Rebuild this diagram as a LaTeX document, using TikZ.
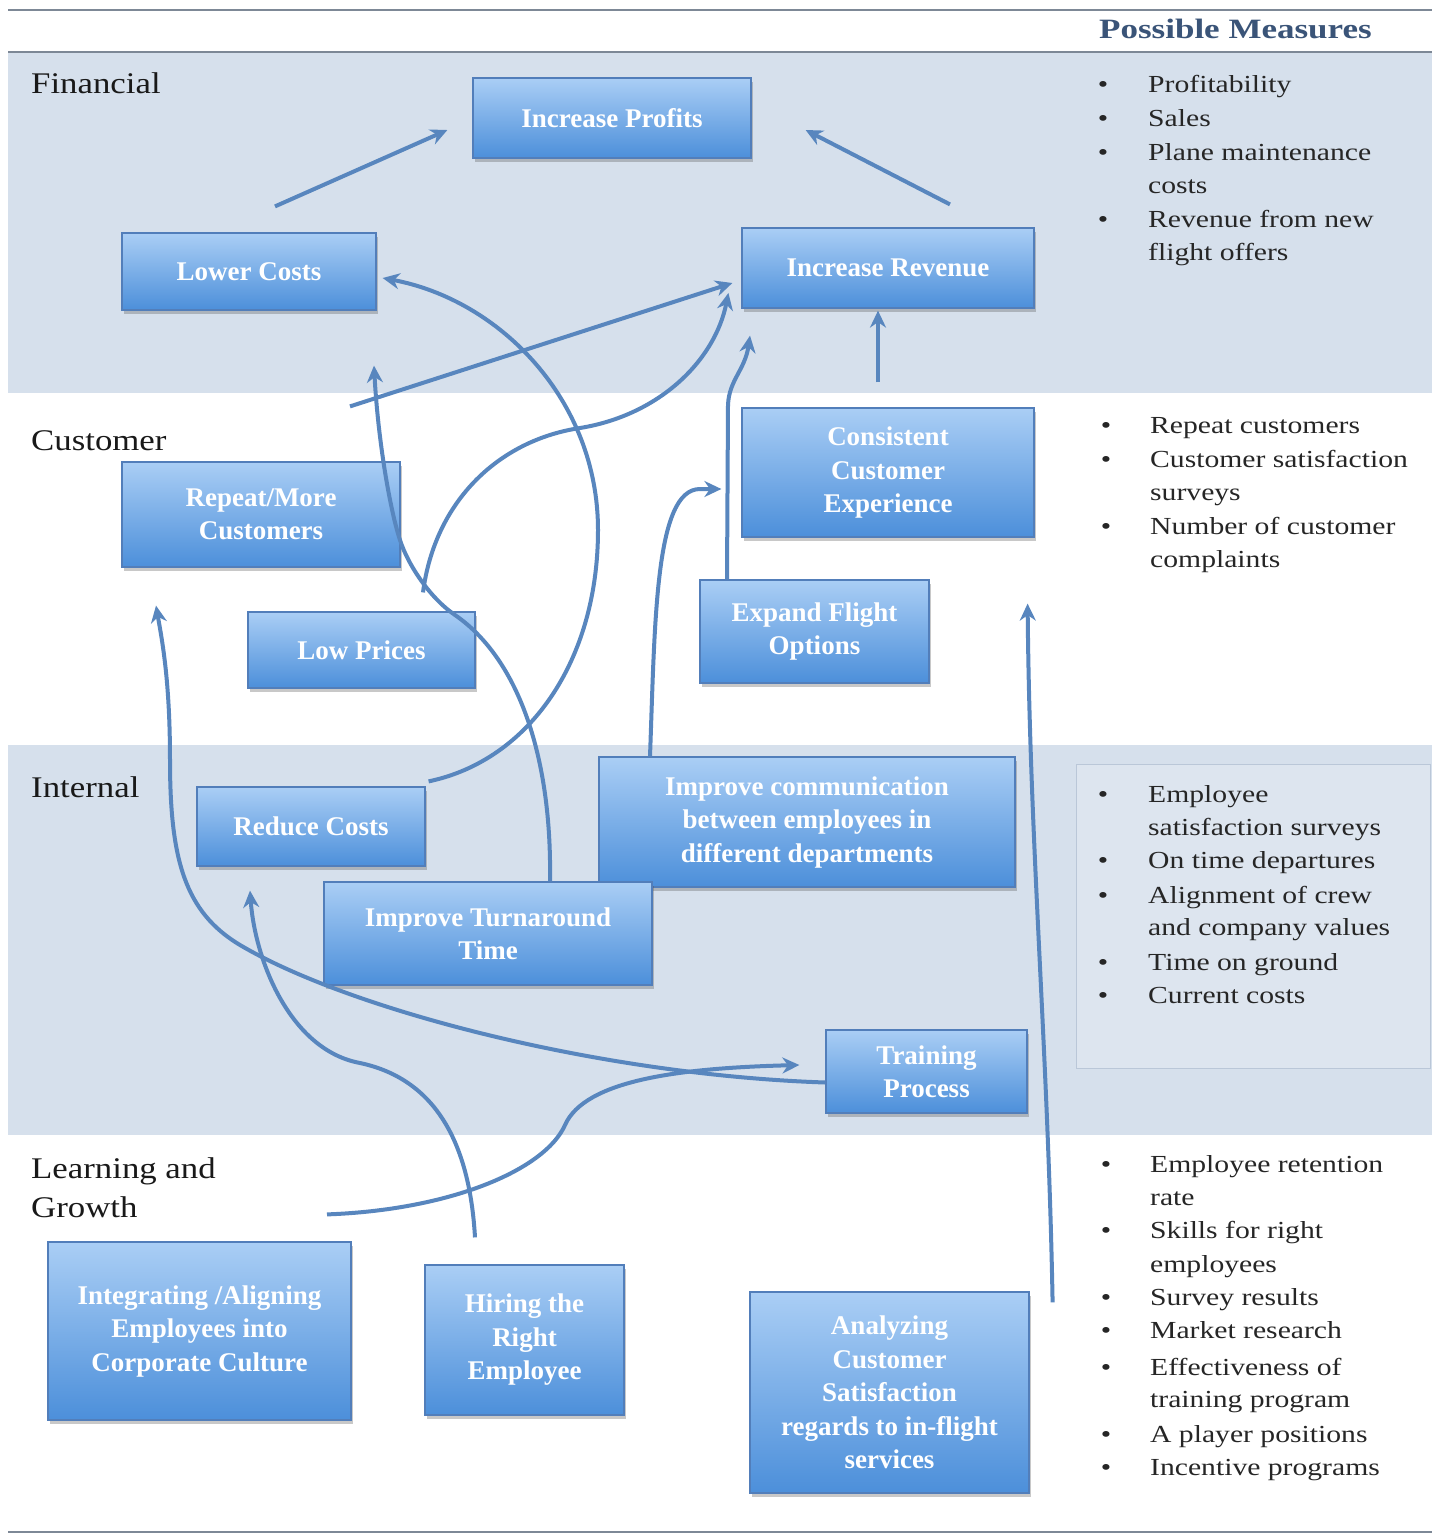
\documentclass[tikz,border=0pt]{standalone}
\usepackage{fontspec}
\setmainfont{Liberation Serif}
\newfontfamily\lblfont[FakeStretch=1.16]{Liberation Serif}
\newfontfamily\measfont[FakeStretch=1.21]{Liberation Serif}
\newfontfamily\headfont[FakeStretch=1.25]{Liberation Serif}
\usetikzlibrary{arrows.meta,shadows}

\definecolor{bandfill}{RGB}{214,224,236}
\definecolor{rulegray}{RGB}{125,136,150}
\definecolor{boxtop}{RGB}{170,206,245}
\definecolor{boxbot}{RGB}{76,143,218}
\definecolor{boxline}{RGB}{82,126,186}
\definecolor{arr}{RGB}{88,134,190}
\definecolor{headblue}{RGB}{58,84,120}
\definecolor{panelfill}{RGB}{221,229,239}
\definecolor{paneledge}{RGB}{186,199,216}

\begin{document}
\begin{tikzpicture}[x=1pt,y=-1pt,
  box/.style={draw=boxline, line width=1.2pt, top color=boxtop, bottom color=boxbot,
    text=white, align=center, inner sep=2pt,
    font=\fontsize{27}{33.5}\selectfont\bfseries,
    drop shadow={shadow xshift=2pt, shadow yshift=-4pt, opacity=0.3, fill=black!70}},
  cat/.style={anchor=base west, inner sep=0pt, text=black!90,
    font=\lblfont\fontsize{30}{36}\selectfont},
  meas/.style={anchor=base west, inner sep=0pt, text=black!85,
    font=\measfont\fontsize{24.5}{30}\selectfont},
  bul/.style={anchor=base, inner sep=0pt, text=black!85,
    font=\measfont\fontsize{24.5}{30}\selectfont},
  rule/.style={draw=rulegray, line width=2.5pt},
  link/.style={draw=arr, line width=4pt, -{Stealth[length=17pt,width=16pt]}}
]
\useasboundingbox (0,0) rectangle (1432,1535);
\fill[white] (0,0) rectangle (1432,1535);

% perspective bands
\fill[bandfill] (8,52) rectangle (1432,393);
\fill[bandfill] (8,745) rectangle (1432,1135);
\draw[rule] (8,10) -- (1432,10);
\draw[rule] (8,52) -- (1432,52);
\draw[rule] (8,1532) -- (1432,1532);

% panel behind the internal measures
\draw[draw=paneledge, fill=panelfill, line width=1pt] (1076,764) rectangle (1430,1068);

% headings
\node[anchor=base west, inner sep=0pt, text=headblue,
  font=\headfont\bfseries\fontsize{28}{34}\selectfont] (hdr) at (1099,38) {Possible Measures};
\node[cat] (catF) at (31,93) {Financial};
\node[cat] (catC) at (31,450) {Customer};
\node[cat] (catI) at (31,797) {Internal};
\node[cat] (catL1) at (31,1178) {Learning and};
\node[cat] (catL2) at (31,1217) {Growth};

% objectives
\node[box, minimum width=278pt, minimum height=80pt] (ip) at (612,118) {Increase Profits};
\node[box, minimum width=254pt, minimum height=77pt] (lc) at (249,271.5) {Lower Costs};
\node[box, minimum width=292pt, minimum height=80pt] (ir) at (888,268) {Increase Revenue};
\node[box, minimum width=292pt, minimum height=129pt] (cce) at (888,472.5) {Consistent\\Customer\\Experience};
\node[box, minimum width=278pt, minimum height=105pt] (rmc) at (261,514.5) {Repeat/More\\Customers};
\node[box, minimum width=227pt, minimum height=76pt] (lp) at (361.5,650) {Low Prices};
\node[box, minimum width=229pt, minimum height=103pt] (efo) at (814.5,631.5) {Expand Flight\\Options};
\node[box, minimum width=228pt, minimum height=79pt] (rc) at (311,826.5) {Reduce Costs};
\node[box, minimum width=416pt, minimum height=130pt] (icd) at (807,822) {Improve communication\\between employees in\\different departments};
\node[box, minimum width=328pt, minimum height=103pt] (itt) at (488,933.5) {Improve Turnaround\\Time};
\node[box, minimum width=201pt, minimum height=83pt] (tp) at (926.5,1071.5) {Training\\Process};
\node[box, minimum width=303pt, minimum height=178pt] (iac) at (199.5,1331) {Integrating /Aligning\\Employees into\\Corporate Culture};
\node[box, minimum width=199pt, minimum height=150pt] (hre) at (524.5,1340) {Hiring the\\Right\\Employee};
\node[box, minimum width=279pt, minimum height=201pt] (acs) at (889.5,1392.5) {Analyzing\\Customer\\Satisfaction\\regards to in-flight\\services};

% cause-and-effect links
\draw[link] ([shift={(26,-26)}]lc.north) -- ([shift={(-25,12)}]ip.west);
\draw[link] ([shift={(62,-23)}]ir.north) -- ([shift={(54,12)}]ip.east);
\draw[link] ([shift={(-10,-25)}]cce.north) -- ([shift={(-10,2)}]ir.south);
\draw[link] ([shift={(89,-55)}]rmc.north) -- ([shift={(-9,15)}]ir.west);
\draw[link] ([shift={(61.5,-19)}]lp.north)
  .. controls (435,500) and (500,440) .. (580,428)
  .. controls (660,415) and (715,360) .. ([shift={(-13,25)}]ir.west);
\draw[link] ([shift={(3,-5)}]rc.north east)
  .. controls (530,760) and (598,660) .. (598,530)
  .. controls (598,400) and (500,300) .. ([shift={(6,6.5)}]lc.east);
\draw[link] ([shift={(62,0)}]itt.north)
  .. controls (552,760) and (520,660) .. (455,615)
  .. controls (430,598) and (408,565) .. (400,540)
  .. controls (390,510) and (378,440) .. ([shift={(125,55)}]lc.south);
\draw[link] ([shift={(-87.5,0)}]efo.north) -- (728,405)
  .. controls (729,380) and (745,370) .. ([shift={(-138,27)}]ir.south);
\draw[link] ([shift={(-157,0)}]icd.north)
  .. controls (655,620) and (655,489) .. (700,489) -- ([shift={(-20,16.5)}]cce.west);
\draw[link] ([shift={(0,11)}]tp.west)
  .. controls (600,1075) and (350,1010) .. (240,945)
  .. controls (185,912) and (170,860) .. (170,760)
  .. controls (170,680) and (162,640) .. ([shift={(-105,38)}]rmc.south);
\draw[link] ([shift={(127.5,-27)}]iac.north)
  .. controls (450,1210) and (545,1170) .. (565,1125)
  .. controls (585,1080) and (680,1068) .. ([shift={(-26,-6.5)}]tp.west);
\draw[link] ([shift={(-49.5,-27)}]hre.north)
  .. controls (470,1150) and (440,1080) .. (360,1063)
  .. controls (290,1050) and (255,960) .. ([shift={(-61,24)}]rc.south);
\draw[link] ([shift={(23,11)}]acs.north east)
  .. controls (1048,1050) and (1030,850) .. ([shift={(-7,66)}]cce.south east);

% measures: financial
\foreach \y/\t [count=\i] in {92/Profitability, 126/Sales, 160/Plane maintenance,
    193/costs, 227/Revenue from new, 260/flight offers}
  \node[meas] (mf\i) at (1148,\y) {\t};
\foreach \y [count=\i] in {92,126,160,227}
  \node[bul] (bf\i) at (1103,\y) {\textbullet};

% measures: customer
\foreach \y/\t [count=\i] in {433/Repeat customers, 467/Customer satisfaction,
    500/surveys, 534/Number of customer, 567/complaints}
  \node[meas] (mc\i) at (1150,\y) {\t};
\foreach \y [count=\i] in {433,467,534}
  \node[bul] (bc\i) at (1106,\y) {\textbullet};

% measures: internal
\foreach \y/\t [count=\i] in {802/Employee, 835/satisfaction surveys,
    868/On time departures, 903/Alignment of crew, 935/and company values,
    970/Time on ground, 1003/Current costs}
  \node[meas] (mi\i) at (1148,\y) {\t};
\foreach \y [count=\i] in {802,868,903,970,1003}
  \node[bul] (bi\i) at (1103,\y) {\textbullet};

% measures: learning and growth
\foreach \y/\t [count=\i] in {1172/Employee retention, 1205/rate,
    1238/Skills for right, 1272/employees, 1305/Survey results,
    1338/Market research, 1375/Effectiveness of, 1407/training program,
    1442/A player positions, 1475/Incentive programs}
  \node[meas] (ml\i) at (1150,\y) {\t};
\foreach \y [count=\i] in {1172,1238,1305,1338,1375,1442,1475}
  \node[bul] (bl\i) at (1106,\y) {\textbullet};
\end{tikzpicture}
\end{document}
